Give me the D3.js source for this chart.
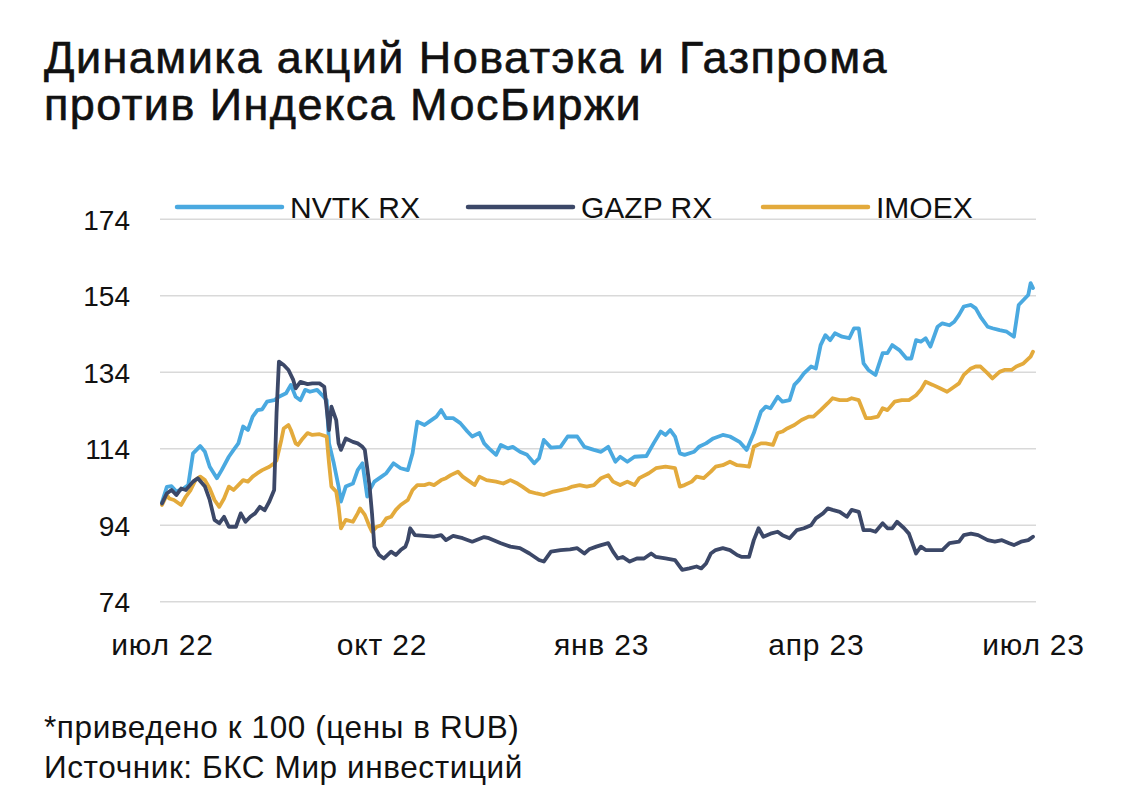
<!DOCTYPE html>
<meta charset="utf-8">
<script src="https://d3js.org/d3.v7.min.js"></script>
<style>
  body { margin: 0; background: #fff; }
  text { font-family: "Liberation Sans", Arial, sans-serif; fill: #111; }
</style>
<svg id="chart" width="1127" height="805"></svg>

<script>

  // ---- data (days since 1 Jul 2022, index = 100 at start) ----
  var nvtkDays = [0, 2, 4, 6, 9, 11, 13, 16, 18, 20, 23, 25, 28, 30, 32, 34, 36, 38, 40, 42, 44, 47, 49, 52, 54, 56, 58, 60, 62, 65, 67, 69, 70, 72, 74, 75, 77, 80, 82, 84, 86, 87, 89, 92, 94, 97, 100, 103, 105, 107, 110, 112, 115, 117, 119, 122, 125, 128, 130, 133, 135, 137, 140, 142, 145, 147, 150, 153, 156, 158, 160, 163, 167, 170, 174, 177, 181, 184, 187, 190, 192, 195, 198, 203, 206, 209, 211, 213, 215, 217, 219, 223, 225, 228, 231, 235, 238, 242, 245, 248, 251, 253, 255, 258, 260, 263, 265, 267, 269, 272, 274, 276, 278, 280, 282, 285, 288, 290, 292, 294, 296, 299, 302, 304, 306, 309, 312, 314, 316, 318, 320, 322, 325, 327, 330, 332, 334, 336, 339, 341, 343, 346, 348, 351, 354, 357, 359, 361, 363, 364, 365];
  var nvtkVals = [100, 104, 104.2, 102.8, 103.6, 104.5, 112.8, 114.7, 113.2, 109.3, 106.3, 108.4, 111.9, 113.7, 115.4, 119.8, 118.9, 122.4, 124.1, 124.3, 126.3, 126.7, 127.6, 128.5, 130.7, 127.6, 126.7, 129.4, 128.9, 129.4, 128.1, 126.7, 115.4, 110.2, 104.1, 100.2, 104.1, 104.9, 108.4, 110.2, 101.5, 103.2, 105.4, 106.7, 107.6, 110.2, 108.9, 108.4, 112.8, 121.1, 120.2, 121.1, 122.4, 124.1, 122, 122, 120.7, 118.5, 117.2, 118.1, 115.4, 114.1, 112.4, 115, 114.1, 114.5, 113.2, 112.4, 110.2, 111.5, 116.3, 114.3, 114.5, 117.2, 117.2, 114.5, 113.7, 113.2, 114.5, 110.6, 111.9, 110.6, 111.9, 112.1, 115.4, 118.5, 117.6, 118.9, 117.2, 112.8, 112.4, 113.2, 114.5, 115.4, 116.7, 117.6, 117.2, 115.8, 113.7, 118.1, 123.7, 125, 124.6, 127.6, 126.3, 126.7, 130.7, 132, 133.7, 135.5, 135, 141.1, 143.7, 142.4, 144.2, 143.3, 142.9, 145.5, 145.5, 136.3, 134.6, 133.3, 139, 139, 141.1, 139.8, 137.6, 137.6, 142.4, 142, 142.9, 140.7, 145.9, 146.8, 146.3, 147.2, 149, 151.2, 151.6, 150.7, 148.5, 145.9, 145.5, 145, 144.6, 143.3, 151.6, 152.9, 154.2, 157.3, 156];

  var gazpDays = [0, 2, 4, 6, 8, 10, 13, 15, 18, 20, 22, 24, 26, 28, 31, 33, 35, 37, 39, 41, 43, 45, 47, 48, 49, 51, 53, 55, 56, 58, 61, 63, 66, 68, 70, 71, 73, 74, 75, 77, 80, 82, 84, 85, 87, 88, 89, 91, 93, 96, 98, 100, 102, 103, 104, 106, 110, 114, 117, 119, 122, 126, 130, 135, 137, 142, 146, 150, 154, 158, 160, 163, 167, 171, 174, 177, 179, 182, 184, 187, 189, 191, 193, 196, 199, 202, 205, 207, 211, 215, 218, 221, 224, 226, 228, 230, 232, 235, 238, 241, 243, 246, 248, 250, 252, 255, 258, 260, 263, 266, 269, 272, 274, 277, 279, 281, 284, 287, 289, 292, 294, 297, 299, 302, 304, 306, 308, 311, 313, 316, 318, 320, 324, 327, 330, 334, 336, 339, 342, 346, 349, 352, 355, 357, 360, 363, 365];
  var gazpVals = [99.7, 102.3, 103.2, 101.9, 103.6, 103.2, 105.4, 106.3, 104.1, 100.6, 95.4, 94.5, 96.2, 93.6, 93.6, 97.1, 94.9, 96.2, 97.1, 98.8, 97.9, 100.2, 103.2, 123.3, 136.8, 135.9, 134.6, 132, 129.8, 131.5, 130.9, 131.1, 131.1, 130.2, 118.9, 125, 121.5, 115.4, 113.7, 116.7, 115.8, 115.4, 114.5, 113.7, 104.1, 97.1, 88.4, 86.2, 85.3, 87.1, 86.2, 87.5, 88.4, 90.1, 93.2, 91.4, 91.2, 91, 91.4, 90.1, 91.2, 90.6, 89.7, 90.9, 90.6, 89.3, 88.4, 88, 86.6, 84.9, 84.5, 87.1, 87.5, 87.7, 88, 86.6, 87.7, 88.4, 88.8, 89.3, 87.1, 85.3, 85.7, 84.5, 85.3, 85.3, 86.6, 85.7, 85.3, 84.9, 82.3, 82.7, 83.2, 82.7, 84, 86.6, 87.5, 88, 87.5, 86.2, 85.7, 85.7, 90.1, 93.2, 91, 91.8, 92.3, 91.4, 90.6, 92.7, 93.2, 94, 95.8, 97.1, 98.4, 98, 97.5, 96.2, 98, 97.5, 92.7, 92.7, 92.3, 94.5, 93.2, 93.2, 94.9, 93.2, 91.8, 86.6, 88.4, 87.5, 87.5, 87.5, 89.3, 89.7, 91.4, 91.8, 91.4, 90.1, 89.7, 90.1, 89.3, 88.8, 89.7, 90.1, 91];

  var imoexDays = [0, 2, 3, 5, 8, 10, 12, 14, 16, 18, 20, 22, 24, 26, 28, 30, 32, 34, 36, 38, 40, 42, 45, 47, 48, 50, 51, 53, 54, 56, 57, 59, 61, 63, 66, 69, 70, 71, 73, 74, 75, 77, 80, 82, 83, 85, 87, 88, 90, 92, 94, 96, 98, 100, 103, 105, 107, 110, 112, 114, 117, 119, 121, 124, 126, 129, 131, 133, 136, 140, 143, 146, 149, 151, 154, 157, 160, 164, 167, 170, 172, 175, 178, 181, 184, 187, 189, 192, 195, 198, 200, 204, 207, 211, 215, 217, 219, 222, 224, 227, 230, 232, 235, 238, 241, 244, 246, 248, 251, 253, 256, 258, 260, 262, 265, 268, 271, 273, 276, 279, 281, 284, 287, 289, 292, 295, 297, 300, 302, 304, 307, 310, 313, 316, 318, 320, 323, 326, 329, 332, 334, 336, 339, 341, 343, 346, 348, 351, 353, 356, 358, 361, 364, 365];
  var imoexVals = [99.3, 101.9, 101, 100.6, 99.3, 101.5, 103.2, 105.8, 106.7, 105.8, 103.6, 100.6, 98.8, 101, 104.1, 103.2, 104.5, 105.8, 105.4, 106.7, 107.6, 108.4, 109.3, 110.2, 111, 116.3, 119.3, 120.2, 118.9, 115.4, 115, 116.7, 118.1, 117.6, 117.8, 117.2, 110.2, 104.1, 102.8, 98.8, 93.2, 95.4, 94.9, 97.1, 98.4, 96.7, 93.6, 92.3, 93.6, 94, 95.8, 96.2, 98, 99.3, 100.6, 103.2, 104.5, 104.5, 104.9, 104.5, 105.8, 106.3, 107.1, 108, 106.7, 105.4, 104.5, 106.7, 105.8, 105.4, 104.9, 105.8, 104.9, 104.1, 102.8, 102.3, 101.9, 102.8, 103.2, 103.6, 104.1, 104.5, 104.1, 104.5, 106.3, 107.1, 105.4, 104.5, 105.4, 104.5, 106.3, 107.6, 108.9, 109.3, 108.9, 104.1, 104.5, 105.4, 106.7, 106.3, 108, 109.3, 109.7, 110.6, 109.7, 109.5, 109.3, 114.5, 115.4, 115.4, 115, 118.1, 118.5, 119.3, 120.2, 121.5, 122.4, 122.4, 124.1, 125.9, 127.2, 126.7, 126.7, 127.2, 126.7, 122, 122, 122.4, 124.6, 124.1, 126.3, 126.7, 126.7, 128, 129.4, 131.5, 130.7, 129.8, 128.9, 130.2, 131.1, 133.3, 135, 135.5, 135.5, 133.7, 132.4, 134.1, 134.6, 134.6, 135.5, 136.3, 138.1, 139.4];

  var seriesNames = ["NVTK RX", "GAZP RX", "IMOEX"];
  var seriesColors = ["#4aa9e0", "#3c4868", "#e3aa3c"];
  var yTicks = [74, 94, 114, 134, 154, 174];
  var xTickDates = ["2022-07-01", "2022-10-01", "2023-01-01", "2023-04-01", "2023-07-01"];
  var xTickLabels = ["июл 22", "окт 22", "янв 23", "апр 23", "июл 23"];

  var svg = d3.select("#chart");
  var start = new Date(Date.UTC(2022, 6, 1));
  var parse = d3.utcParse("%Y-%m-%d");

  function toPoints(days, vals) {
    return days.map(function (d, i) { return { date: d3.utcDay.offset(start, d), value: vals[i] }; });
  }
  var series = [
    toPoints(nvtkDays, nvtkVals),
    toPoints(gazpDays, gazpVals),
    toPoints(imoexDays, imoexVals)
  ];

  // title
  svg.append("text")
    .attr("x", 44).attr("y", 73)
    .style("font-size", "45px").style("letter-spacing", "1.45px")
    .style("stroke", "#111").style("stroke-width", 0.6)
    .text("Динамика акций Новатэка и Газпрома");
  svg.append("text")
    .attr("x", 44).attr("y", 120)
    .style("font-size", "45px").style("letter-spacing", "1.45px")
    .style("stroke", "#111").style("stroke-width", 0.6)
    .text("против Индекса МосБиржи");

  // scales
  var x = d3.scaleUtc()
    .domain([start, parse("2023-07-01")])
    .range([162, 1033]);
  var y = d3.scaleLinear()
    .domain([74, 174])
    .range([601.7, 219.3]);

  // gridlines
  svg.append("g")
    .selectAll("line")
    .data(yTicks)
    .enter()
    .append("line")
    .attr("x1", 160).attr("x2", 1036)
    .attr("y1", function (d) { return y(d); })
    .attr("y2", function (d) { return y(d); })
    .attr("stroke", "#d9d9d9")
    .attr("stroke-width", 1.6);

  // y axis labels
  var yAxis = d3.axisLeft(y).tickValues(yTicks).tickSize(0).tickPadding(0);
  svg.append("g")
    .attr("transform", "translate(130,0)")
    .call(yAxis)
    .call(function (g) { g.select(".domain").remove(); })
    .selectAll("text")
    .attr("dy", "0.36em")
    .style("font-size", "28px")
    .style("font-family", "'Liberation Sans', sans-serif")
    .attr("fill", "#111");

  // x axis labels
  var xAxis = d3.axisBottom(x)
    .tickValues(xTickDates.map(parse))
    .tickFormat(function (d, i) { return xTickLabels[i]; })
    .tickSize(0).tickPadding(0);
  svg.append("g")
    .attr("transform", "translate(0,634)")
    .call(xAxis)
    .call(function (g) { g.select(".domain").remove(); })
    .selectAll("text")
    .attr("dy", "0.71em")
    .style("font-size", "30px")
    .style("letter-spacing", "0.8px")
    .style("font-family", "'Liberation Sans', sans-serif")
    .attr("fill", "#111");

  // lines
  var line = d3.line()
    .x(function (d) { return x(d.date); })
    .y(function (d) { return y(d.value); });

  var drawOrder = [0, 2, 1];
  svg.append("g")
    .selectAll("path")
    .data(drawOrder)
    .enter()
    .append("path")
    .attr("d", function (i) { return line(series[i]); })
    .attr("fill", "none")
    .attr("stroke", function (i) { return seriesColors[i]; })
    .attr("stroke-width", 3.8)
    .attr("stroke-linejoin", "round")
    .attr("stroke-linecap", "round");

  // legend
  var legendX = [177, 468, 763];
  var legend = svg.append("g")
    .selectAll("g")
    .data(seriesNames)
    .enter()
    .append("g")
    .attr("transform", function (d, i) { return "translate(" + legendX[i] + ",207)"; });
  legend.append("line")
    .attr("x1", 0).attr("x2", 105)
    .attr("stroke", function (d, i) { return seriesColors[i]; })
    .attr("stroke-width", 4.5)
    .attr("stroke-linecap", "round");
  legend.append("text")
    .attr("x", 113).attr("y", 10.5)
    .style("font-size", "30px")
    .text(function (d) { return d; });

  // footnote
  svg.append("text")
    .attr("x", 44).attr("y", 738)
    .style("font-size", "31.5px").style("letter-spacing", "0.6px")
    .text("*приведено к 100 (цены в RUB)");
  svg.append("text")
    .attr("x", 44).attr("y", 778)
    .style("font-size", "31.5px").style("letter-spacing", "0.6px")
    .text("Источник: БКС Мир инвестиций");

</script>
